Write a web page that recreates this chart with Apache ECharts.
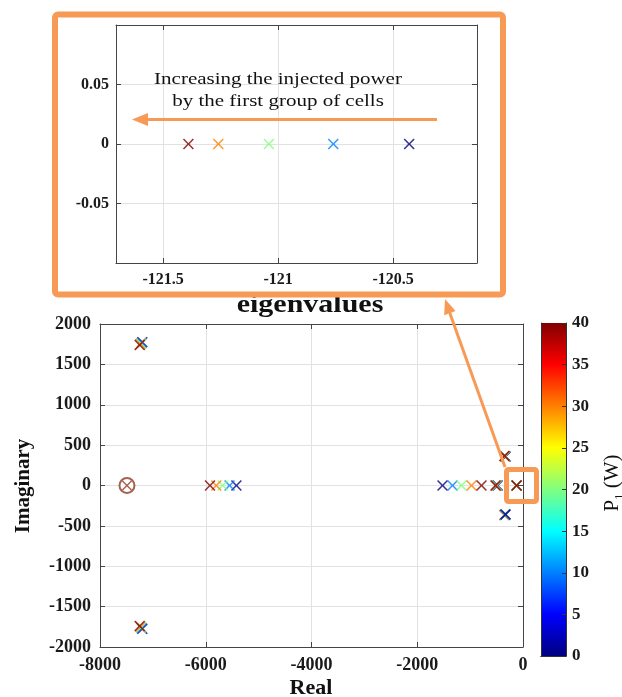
<!DOCTYPE html>
<html><head><meta charset="utf-8">
<script src="https://cdn.jsdelivr.net/npm/echarts@6/dist/echarts.min.js"></script>
<style>html,body{margin:0;padding:0;background:#fff}#c{width:622px;height:697px}</style>
</head><body><div id="c"></div>
<script>
// ---- data ----
const powers   = [0, 10, 20, 30, 40];                       // P1 (W)
const hfRe     = [-7200, -7212, -7225, -7237, -7250];       // high-frequency pair, real part
const hfIm     = [1775, 1767, 1758, 1749, 1740];            // high-frequency pair, imag part
const midRe    = [-5420, -5550, -5680, -5800, -5920];       // real mode near -5600
const lowRe    = [-1522, -1333, -1163, -974, -785];         // real mode near -1100
const nearRe   = [-480, -490, -500, -510, -520];            // real mode near -500
const oscRe    = [-330, -335, -340, -345, -350];            // low-frequency pair, real part
const oscIm    = [358, 360, 362, 364, 366];                 // low-frequency pair, imag part
const insetRe  = [-120.43, -120.76, -121.04, -121.26, -121.39]; // zoomed real mode
const ringRe   = [-7490];
const ringIm   = [0];
const mainXTicks = [-8000, 0, 2000];     // min, max, interval
const mainYTicks = [-2000, 2000, 500];
const cbarTicks  = [0, 40, 5];

// ---- build series data ----
const mainData = [];
powers.forEach((p, i) => {
  mainData.push([hfRe[i], hfIm[i], p]);
  mainData.push([hfRe[i], -hfIm[i], p]);
  mainData.push([midRe[i], 0, p]);
  mainData.push([lowRe[i], 0, p]);
  mainData.push([nearRe[i], 0, p]);
  mainData.push([oscRe[i], oscIm[i], p]);
  mainData.push([insetRe[i], 0, p]);
});
for (let i = powers.length - 1; i >= 0; i--) mainData.push([oscRe[i], -oscIm[i], powers[i]]);
const insetData = powers.map((p, i) => [insetRe[i], 0, p]);
const ringData = ringRe.map((r, i) => [r, ringIm[i]]);

const jet = ['#000080','#0000FF','#0080FF','#00FFFF','#80FF80','#FFFF00','#FF8000','#FF0000','#800000'];
const FONT = '"Liberation Serif","Times New Roman",serif';
const ORANGE = '#F79A55';
const XSYM = 'path://M0,10 L10,0 L50,40 L90,0 L100,10 L60,50 L100,90 L90,100 L50,60 L10,100 L0,90 L40,50 Z';
const plain = v => String(+v.toFixed(4));

const lab = (size, extra) => Object.assign({fontFamily: FONT, fontWeight: 'bold', fontSize: size, color: '#1a1a1a', formatter: plain}, extra || {});
const aLine = {show: true, onZero: false, lineStyle: {color: '#444', width: 1}};
const aTick = {show: true, inside: true, length: 5, lineStyle: {color: '#444'}};
const sLine = {show: true, lineStyle: {color: '#e2e2e2', width: 1}};

const chart = echarts.init(document.getElementById('c'), null, {renderer: 'canvas'});
chart.setOption({
  animation: false,
  backgroundColor: '#fff',
  grid: [
    {left: 100, top: 324, width: 423, height: 323},
    {left: 116, top: 25, width: 361, height: 238, z: 20},
    {left: 541, top: 323, width: 25, height: 333}
  ],
  xAxis: [
    {type: 'value', gridIndex: 0, min: mainXTicks[0], max: mainXTicks[1], interval: mainXTicks[2], position: 'bottom',
     axisLine: aLine, axisTick: aTick, axisLabel: lab(18, {margin: 9}), splitLine: sLine},
    {type: 'value', gridIndex: 0, min: mainXTicks[0], max: mainXTicks[1], interval: mainXTicks[2], position: 'top',
     axisLine: aLine, axisTick: aTick, axisLabel: {show: false}, splitLine: {show: false}},
    {type: 'value', gridIndex: 1, min: -121.705, max: -120.135, splitNumber: 3, position: 'bottom', z: 20,
     axisLine: aLine, axisTick: aTick, axisLabel: lab(16, {margin: 9, showMinLabel: false, showMaxLabel: false}), splitLine: sLine},
    {type: 'value', gridIndex: 1, min: -121.705, max: -120.135, splitNumber: 3, position: 'top', z: 20,
     axisLine: aLine, axisTick: aTick, axisLabel: {show: false}, splitLine: {show: false}},
    {type: 'category', gridIndex: 2, data: ['c'], position: 'bottom', z: 5,
     axisLine: {show: true, lineStyle: {color: '#333'}}, axisTick: {show: false}, axisLabel: {show: false}},
    {type: 'category', gridIndex: 2, data: ['c'], position: 'top', z: 5,
     axisLine: {show: true, lineStyle: {color: '#333'}}, axisTick: {show: false}, axisLabel: {show: false}}
  ],
  yAxis: [
    {type: 'value', gridIndex: 0, min: mainYTicks[0], max: mainYTicks[1], interval: mainYTicks[2], position: 'left',
     axisLine: aLine, axisTick: aTick, axisLabel: lab(18, {margin: 9}), splitLine: sLine},
    {type: 'value', gridIndex: 0, min: mainYTicks[0], max: mainYTicks[1], interval: mainYTicks[2], position: 'right',
     axisLine: aLine, axisTick: aTick, axisLabel: {show: false}, splitLine: {show: false}},
    {type: 'value', gridIndex: 1, min: -0.1, max: 0.1, interval: 0.05, position: 'left', z: 20,
     axisLine: aLine, axisTick: aTick, axisLabel: lab(16, {margin: 7, showMinLabel: false, showMaxLabel: false}), splitLine: sLine},
    {type: 'value', gridIndex: 1, min: -0.1, max: 0.1, interval: 0.05, position: 'right', z: 20,
     axisLine: aLine, axisTick: aTick, axisLabel: {show: false}, splitLine: {show: false}},
    {type: 'value', gridIndex: 2, min: cbarTicks[0], max: cbarTicks[1], interval: cbarTicks[2], position: 'right', z: 5,
     axisLine: {show: true, onZero: false, lineStyle: {color: '#333'}},
     axisTick: {show: true, inside: true, length: 4, lineStyle: {color: '#333'}},
     axisLabel: lab(17, {margin: 6}), splitLine: {show: false}},
    {type: 'value', gridIndex: 2, min: cbarTicks[0], max: cbarTicks[1], interval: cbarTicks[2], position: 'left', z: 5,
     axisLine: {show: true, onZero: false, lineStyle: {color: '#333'}}, axisTick: {show: false}, axisLabel: {show: false}, splitLine: {show: false}}
  ],
  visualMap: [{
    type: 'continuous', show: false, min: cbarTicks[0], max: cbarTicks[1], dimension: 2, seriesIndex: [0, 1],
    inRange: {color: jet}
  }],
  series: [
    {type: 'scatter', name: 'eig', xAxisIndex: 0, yAxisIndex: 0, symbol: XSYM, symbolSize: 11, z: 3, data: mainData},
    {type: 'scatter', name: 'eigZoom', xAxisIndex: 2, yAxisIndex: 2, symbol: XSYM, symbolSize: 11, z: 21, data: insetData},
    {type: 'scatter', name: 'ring', xAxisIndex: 0, yAxisIndex: 0, symbol: 'emptyCircle', symbolSize: 15, z: 3,
     itemStyle: {color: '#8E3B25', borderWidth: 2}, data: ringData},
    {type: 'scatter', name: 'ringX', xAxisIndex: 0, yAxisIndex: 0, symbol: XSYM, symbolSize: 10, z: 4,
     itemStyle: {color: '#8E3B25'}, data: ringData},
    {type: 'bar', name: 'cbar', xAxisIndex: 4, yAxisIndex: 4, barWidth: '100%', silent: true, z: 2,
     itemStyle: {color: {type: 'linear', x: 0, y: 0, x2: 0, y2: 1,
       colorStops: jet.map((c, k) => ({offset: 1 - k / (jet.length - 1), color: c})).reverse()}},
     data: [cbarTicks[1]]}
  ],
  graphic: [
    {type: 'text', z: 1, x: 310, y: 306, scaleX: 1.2,
     style: {text: 'eigenvalues', font: 'bold 25px ' + FONT, textAlign: 'center', textVerticalAlign: 'middle', fill: '#111'}},
    {type: 'rect', z: 10, shape: {x: 55, y: 14.5, width: 448, height: 280, r: 3},
     style: {fill: '#fff', stroke: ORANGE, lineWidth: 6}},
    {type: 'text', z: 30, x: 278, y: 90, scaleX: 1.2,
     style: {text: 'Increasing the injected power\nby the first group of cells', font: '17.5px ' + FONT, lineHeight: 22,
             textAlign: 'center', textVerticalAlign: 'middle', fill: '#111'}},
    {type: 'line', z: 30, shape: {x1: 437, y1: 119.5, x2: 145, y2: 119.5}, style: {stroke: ORANGE, lineWidth: 3}},
    {type: 'polygon', z: 30, shape: {points: [[132, 119.5], [148, 113], [148, 126]]}, style: {fill: ORANGE}},
    {type: 'line', z: 30, shape: {x1: 505, y1: 467, x2: 449.8, y2: 313}, style: {stroke: ORANGE, lineWidth: 3}},
    {type: 'polygon', z: 30, shape: {points: [[445, 299], [455.6, 311.1], [444.2, 315.3]]}, style: {fill: ORANGE}},
    {type: 'rect', z: 30, shape: {x: 506.5, y: 469.5, width: 30, height: 32, r: 2},
     style: {fill: 'none', stroke: ORANGE, lineWidth: 5}},
    {type: 'text', z: 30, x: 24, y: 486, rotation: Math.PI / 2,
     style: {text: 'Imaginary', font: 'bold 21px ' + FONT, textAlign: 'center', textVerticalAlign: 'middle', fill: '#111'}},
    {type: 'text', z: 30, x: 311, y: 688,
     style: {text: 'Real', font: 'bold 22px ' + FONT, textAlign: 'center', textVerticalAlign: 'middle', fill: '#111'}},
    {type: 'text', z: 30, x: 612, y: 483, rotation: Math.PI / 2,
     style: {text: '{p|P}{s|1}{p| (W)}', textAlign: 'center', textVerticalAlign: 'middle', fill: '#111',
       rich: {p: {fontFamily: FONT, fontSize: 21, lineHeight: 28, fill: '#111'},
              s: {fontFamily: FONT, fontSize: 13, lineHeight: 13, verticalAlign: 'bottom', fill: '#111'}}}}
  ]
});
</script></body></html>
